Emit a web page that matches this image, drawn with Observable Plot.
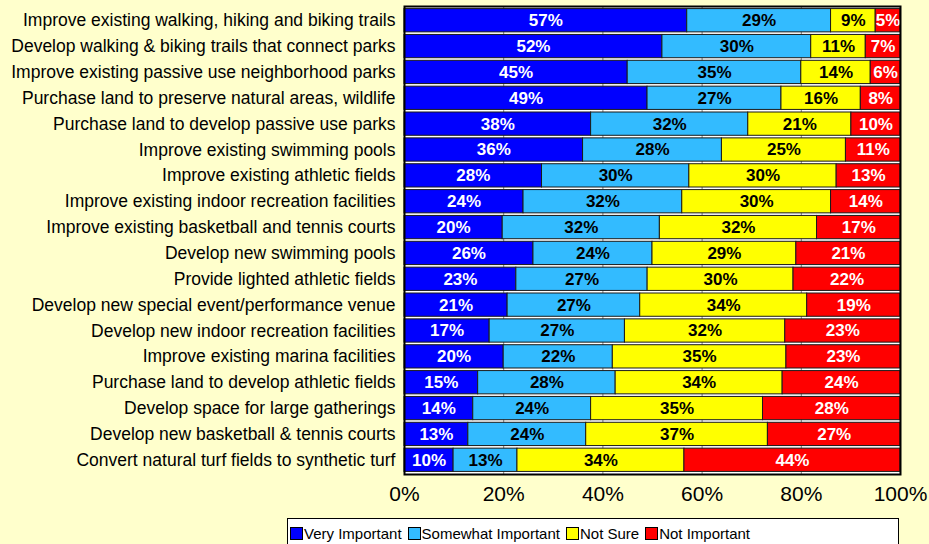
<!DOCTYPE html>
<html>
<head>
<meta charset="utf-8">
<script src="https://cdn.jsdelivr.net/npm/d3@7"></script>
<script src="https://cdn.jsdelivr.net/npm/@observablehq/plot@0.6"></script>
<style>
  html, body { margin: 0; padding: 0; background: #FFFFCC; }
  body { width: 929px; height: 544px; position: relative; overflow: hidden; font-family: "Liberation Sans", Arial, sans-serif; }
  #chart { position: absolute; left: 0; top: 0; }
  #legend { position: absolute; left: 287px; top: 518px; width: 612px; height: 30px; border: 1px solid #000; background: #fff;
            display: flex; align-items: flex-start; padding-top: 6px; box-sizing: border-box; font-size: 15px; color: #000; }
  .item { display: flex; align-items: center; margin-left: 2px; margin-right: 4px; }
  .sw { width: 11px; height: 11px; border: 1px solid #000; margin-right: 1px; }
</style>
</head>
<body>
<div id="chart"></div>
<div id="legend"></div>
<script>
const categories = [
  "Improve existing walking, hiking and biking trails",
  "Develop walking & biking trails that connect parks",
  "Improve existing passive use neighborhood parks",
  "Purchase land to preserve natural areas, wildlife",
  "Purchase land to develop passive use parks",
  "Improve existing swimming pools",
  "Improve existing athletic fields",
  "Improve existing indoor recreation facilities",
  "Improve existing basketball and tennis courts",
  "Develop new swimming pools",
  "Provide lighted athletic fields",
  "Develop new special event/performance venue",
  "Develop new indoor recreation facilities",
  "Improve existing marina facilities",
  "Purchase land to develop athletic fields",
  "Develop space for large gatherings",
  "Develop new basketball & tennis courts",
  "Convert natural turf fields to synthetic turf"
];
const veryImportant     = [57, 52, 45, 49, 38, 36, 28, 24, 20, 26, 23, 21, 17, 20, 15, 14, 13, 10];
const somewhatImportant = [29, 30, 35, 27, 32, 28, 30, 32, 32, 24, 27, 27, 27, 22, 28, 24, 24, 13];
const notSure           = [ 9, 11, 14, 16, 21, 25, 30, 30, 32, 29, 30, 34, 32, 35, 34, 35, 37, 34];
const notImportant      = [ 5,  7,  6,  8, 10, 11, 13, 14, 17, 21, 22, 19, 23, 23, 24, 28, 27, 44];
const seriesNames = ["Very Important", "Somewhat Important", "Not Sure", "Not Important"];
const seriesColors = ["#0000FF", "#33BBFF", "#FFFF00", "#FF0000"];
const labelColors = ["#FFFFFF", "#000000", "#000000", "#FFFFFF"];
const xTicks = [0, 0.2, 0.4, 0.6, 0.8, 1.0];

const seriesValues = [veryImportant, somewhatImportant, notSure, notImportant];
const data = [];
seriesNames.forEach((s, si) => {
  categories.forEach((c, ci) => {
    data.push({cat: c, series: s, value: seriesValues[si][ci], si});
  });
});

const stackOpts = {x: "value", y: "cat", z: "series", order: seriesNames, offset: "normalize"};

const chart = Plot.plot({
  width: 929,
  height: 512,
  marginLeft: 404,
  marginRight: 29,
  marginTop: 6,
  marginBottom: 38,
  style: {background: "transparent", fontFamily: "Liberation Sans, Arial, sans-serif", color: "#000"},
  x: {domain: [0, 1], label: null},
  y: {domain: categories, padding: 0.1, round: false, label: null},
  color: {type: "identity"},
  marks: [
    Plot.frame({fill: "#FFFFFF"}),
    Plot.gridX(xTicks, {stroke: "#808080", strokeOpacity: 1}),
    Plot.barX(data, Plot.stackX({...stackOpts, fill: d => seriesColors[d.si], stroke: "#1a1a1a", strokeWidth: 1})),
    Plot.text(data, Plot.stackX({...stackOpts, text: d => d.value + "%", fill: d => labelColors[d.si], fontWeight: "bold", fontSize: 17})),
    Plot.frame({stroke: "#000", strokeWidth: 2}),
    Plot.axisX({ticks: xTicks, tickFormat: d => Math.round(d * 100) + "%", tickSize: 0, tickPadding: 12, fontSize: 21, label: null}),
    Plot.axisY({tickSize: 0, tickPadding: 9, fontSize: 17.5, label: null})
  ]
});
document.getElementById("chart").appendChild(chart);

const legend = document.getElementById("legend");
seriesNames.forEach((s, i) => {
  const item = document.createElement("div");
  item.className = "item";
  const sw = document.createElement("div");
  sw.className = "sw";
  sw.style.background = seriesColors[i];
  const t = document.createElement("span");
  t.textContent = s;
  item.appendChild(sw);
  item.appendChild(t);
  legend.appendChild(item);
});
</script>
</body>
</html>
